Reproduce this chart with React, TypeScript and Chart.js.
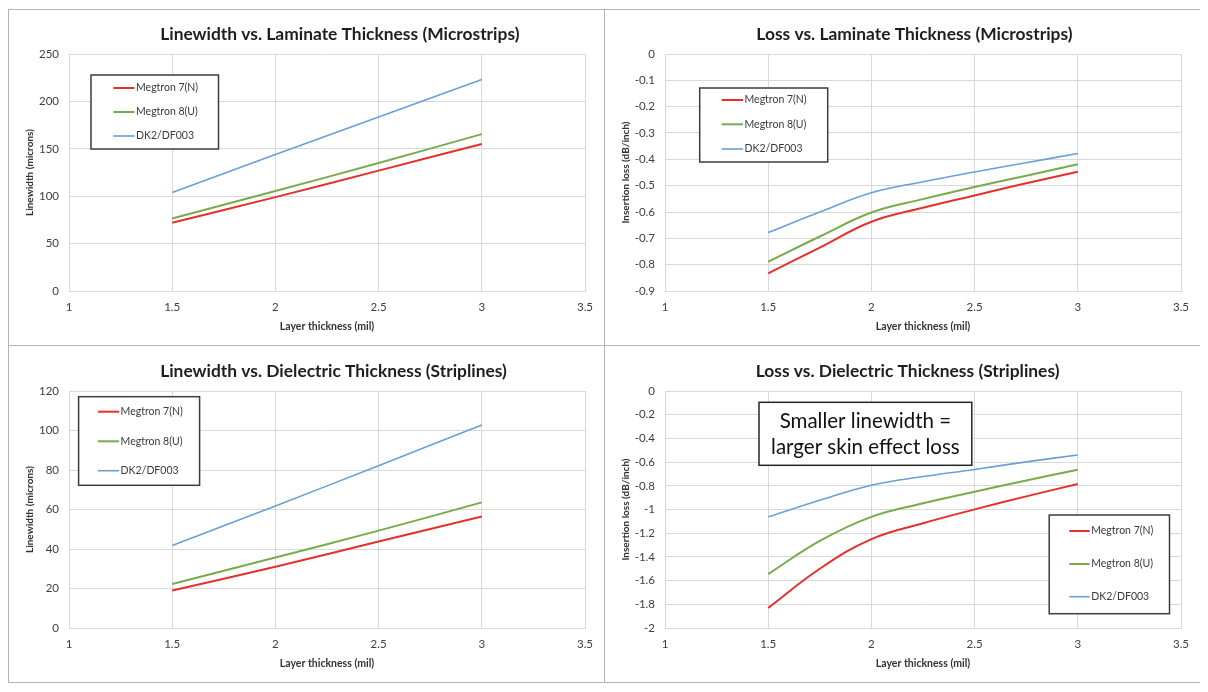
import React, { useEffect, useRef } from 'react';
import { Chart, registerables } from 'chart.js';

Chart.register(...registerables);

// ---------- data ----------
const seriesNames = ['Megtron 7(N)', 'Megtron 8(U)', 'DK2/DF003'];
const seriesColors = ['#E5302C', '#77AC4B', '#6B9FD5'];

const xTicks = [1, 1.5, 2, 2.5, 3, 3.5];
const widthX = [1.5, 2, 2.5, 3];
const lossX = [1.5, 1.75, 2, 2.25, 2.5, 2.75, 3];

const microWidthM7 = [72, 99, 127, 155];
const microWidthM8 = [76.5, 105.5, 135, 165.5];
const microWidthDK2 = [104, 144, 183.5, 223];
const microWidthTicks = [0, 50, 100, 150, 200, 250];

const microLossM7 = [-0.833, -0.735, -0.637, -0.584, -0.537, -0.491, -0.447];
const microLossM8 = [-0.789, -0.693, -0.602, -0.551, -0.505, -0.462, -0.419];
const microLossDK2 = [-0.678, -0.6, -0.527, -0.485, -0.448, -0.413, -0.378];
const microLossTicks = [-0.9, -0.8, -0.7, -0.6, -0.5, -0.4, -0.3, -0.2, -0.1, 0];

const stripWidthM7 = [19, 31, 43.8, 56.5];
const stripWidthM8 = [22.3, 35.7, 49.3, 63.6];
const stripWidthDK2 = [41.8, 61.8, 82.2, 102.8];
const stripWidthTicks = [0, 20, 40, 60, 80, 100, 120];

const stripLossM7 = [-1.83, -1.5, -1.25, -1.116, -0.999, -0.889, -0.785];
const stripLossM8 = [-1.545, -1.265, -1.062, -0.948, -0.85, -0.755, -0.665];
const stripLossDK2 = [-1.062, -0.922, -0.795, -0.722, -0.662, -0.598, -0.54];
const stripLossTicks = [-2, -1.8, -1.6, -1.4, -1.2, -1, -0.8, -0.6, -0.4, -0.2, 0];

const titles = [
  'Linewidth vs. Laminate Thickness (Microstrips)',
  'Loss vs. Laminate Thickness (Microstrips)',
  'Linewidth vs. Dielectric Thickness (Striplines)',
  'Loss vs. Dielectric Thickness (Striplines)',
];
const xAxisTitle = 'Layer thickness (mil)';
const widthAxisTitle = 'Linewidth (microns)';
const lossAxisTitle = 'Insertion loss (dB/inch)';
const annotationLines = ['Smaller linewidth =', 'larger skin effect loss'];

// ---------- styling ----------
const FONT = "Lato, 'Open Sans', sans-serif";
const GRID = '#d9d9d9';
const PANEL_BORDER = '#b4b4b4';

const fmt = (v: number) => String(Math.round(v * 10) / 10);

const boxOverlay = {
  id: 'boxOverlay',
  afterDraw(chart: any, _args: any, opts: any) {
    const ctx = chart.ctx;
    ctx.save();
    if (opts.title) {
      const T = opts.title;
      ctx.fillStyle = '#1e1e1e';
      ctx.font = `bold 17.4px ${FONT}`;
      ctx.textAlign = 'center';
      ctx.textBaseline = 'middle';
      ctx.fillText(T.text, T.x, T.y);
    }
    if (opts.legend) {
      const L = opts.legend;
      const [bx, by, bw, bh] = L.box;
      ctx.fillStyle = '#ffffff';
      ctx.fillRect(bx, by, bw, bh);
      ctx.strokeStyle = '#3c3c3c';
      ctx.lineWidth = 1.5;
      ctx.strokeRect(bx, by, bw, bh);
      chart.data.datasets.forEach((ds: any, i: number) => {
        const y = L.rows[i];
        ctx.strokeStyle = ds.borderColor;
        ctx.lineWidth = ds.borderWidth;
        ctx.beginPath();
        ctx.moveTo(L.line[0], y);
        ctx.lineTo(L.line[1], y);
        ctx.stroke();
        ctx.fillStyle = '#3a3a3a';
        ctx.font = `10.5px ${FONT}`;
        ctx.textAlign = 'left';
        ctx.textBaseline = 'middle';
        ctx.fillText(ds.label, L.line[1] + 1.5, y);
      });
    }
    if (opts.note) {
      const N = opts.note;
      const [bx, by, bw, bh] = N.box;
      ctx.fillStyle = '#ffffff';
      ctx.fillRect(bx, by, bw, bh);
      ctx.strokeStyle = '#262626';
      ctx.lineWidth = 1.5;
      ctx.strokeRect(bx, by, bw, bh);
      ctx.fillStyle = '#111111';
      ctx.font = `20.5px ${FONT}`;
      ctx.textAlign = 'center';
      ctx.textBaseline = 'middle';
      N.lines.forEach((t: string, i: number) => ctx.fillText(t, bx + bw / 2, N.rows[i]));
    }
    ctx.restore();
  },
};

type PanelProps = {
  left: number;
  top: number;
  width: number;
  height: number;
  title: string;
  titleX: number;
  titleY: number;
  plotTop: number;
  yTitle: string;
  xs: number[];
  series: number[][];
  yTicks: number[];
  legend: any;
  note?: any;
};

function Panel(p: PanelProps) {
  const ref = useRef<HTMLCanvasElement | null>(null);
  const cw = p.width - 2;
  const ch = p.height - 2;
  useEffect(() => {
    if (!ref.current) return;
    const chart = new Chart(ref.current, {
      type: 'line',
      data: {
        datasets: p.series.map((vals, i) => ({
          label: seriesNames[i],
          data: p.xs.map((x, j) => ({ x, y: vals[j] })),
          borderColor: seriesColors[i],
          borderWidth: i === 2 ? 1.6 : 2,
          pointRadius: 0,
          tension: 0.4,
          fill: false,
        })),
      },
      options: {
        responsive: false,
        animation: false,
        devicePixelRatio: 1,
        layout: { padding: { left: 0, right: 19, top: p.plotTop, bottom: 0 } },
        plugins: {
          legend: { display: false },
          tooltip: { enabled: false },
          title: { display: false },
          boxOverlay: {
            title: { text: p.title, x: p.titleX, y: p.titleY },
            legend: p.legend,
            note: p.note,
          },
        } as any,
        scales: {
          x: {
            type: 'linear',
            min: xTicks[0],
            max: xTicks[xTicks.length - 1],
            afterBuildTicks: (s: any) => {
              s.ticks = xTicks.map((v) => ({ value: v }));
            },
            afterFit: (s: any) => {
              s.height = 54;
            },
            grid: { color: GRID, drawTicks: false },
            border: { color: GRID },
            ticks: {
              padding: 9,
              color: '#404040',
              font: { family: FONT, size: 11.5 },
              callback: (v: any) => fmt(Number(v)),
              maxRotation: 0,
            },
            title: {
              display: true,
              text: xAxisTitle,
              color: '#333333',
              font: { family: FONT, size: 10.5, weight: 'bold', lineHeight: 1.2 },
              padding: { top: 0, bottom: 12.4 },
            },
          },
          y: {
            type: 'linear',
            min: p.yTicks[0],
            max: p.yTicks[p.yTicks.length - 1],
            afterBuildTicks: (s: any) => {
              s.ticks = p.yTicks.map((v) => ({ value: v }));
            },
            afterFit: (s: any) => {
              s.width = 60;
            },
            grid: { color: GRID, drawTicks: false },
            border: { color: GRID },
            ticks: {
              padding: 10,
              color: '#404040',
              font: { family: FONT, size: 11.5 },
              callback: (v: any) => fmt(Number(v)),
            },
            title: {
              display: true,
              text: p.yTitle,
              color: '#333333',
              font: { family: FONT, size: 10, weight: 'bold', lineHeight: 1.2 },
              padding: { top: 14.7, bottom: 0 },
            },
          },
        },
      } as any,
      plugins: [boxOverlay as any],
    });
    return () => chart.destroy();
  }, []);
  return (
    <div
      style={{
        position: 'absolute',
        left: p.left,
        top: p.top,
        width: p.width,
        height: p.height,
        boxSizing: 'border-box',
        border: `1px solid ${PANEL_BORDER}`,
        background: '#ffffff',
      }}
    >
      <canvas ref={ref} width={cw} height={ch} style={{ display: 'block', width: cw, height: ch }} />
    </div>
  );
}

export default function App() {
  // page offsets relative to body margin (8px)
  return (
    <div style={{ position: 'relative', width: 1192, height: 676 }}>
      <Panel
        left={0}
        top={1}
        width={597}
        height={337}
        title={titles[0]}
        titleX={330.8}
        titleY={24.3}
        plotTop={44}
        yTitle={widthAxisTitle}
        xs={widthX}
        series={[microWidthM7, microWidthM8, microWidthDK2]}
        yTicks={microWidthTicks}
        legend={{ box: [82, 65, 127.5, 74], line: [104.3, 125.5], rows: [78, 102, 126] }}
      />
      <Panel
        left={596}
        top={1}
        width={597}
        height={337}
        title={titles[1]}
        titleX={309.4}
        titleY={24.3}
        plotTop={44}
        yTitle={lossAxisTitle}
        xs={lossX}
        series={[microLossM7, microLossM8, microLossDK2]}
        yTicks={microLossTicks}
        legend={{ box: [94.7, 78, 128, 74], line: [116.7, 138], rows: [90, 114.3, 139] }}
      />
      <Panel
        left={0}
        top={337}
        width={597}
        height={338}
        title={titles[2]}
        titleX={324.5}
        titleY={25}
        plotTop={45}
        yTitle={widthAxisTitle}
        xs={widthX}
        series={[stripWidthM7, stripWidthM8, stripWidthDK2]}
        yTicks={stripWidthTicks}
        legend={{ box: [69.6, 50.7, 121, 88.6], line: [88.9, 110.1], rows: [65.7, 95.3, 124.7] }}
      />
      <Panel
        left={596}
        top={337}
        width={597}
        height={338}
        title={titles[3]}
        titleX={302.6}
        titleY={25}
        plotTop={45}
        yTitle={lossAxisTitle}
        xs={lossX}
        series={[stripLossM7, stripLossM8, stripLossDK2]}
        yTicks={stripLossTicks}
        legend={{ box: [444.2, 169, 120.3, 98.7], line: [464.3, 484.7], rows: [185, 218, 250.7] }}
        note={{ box: [154, 56.3, 212.8, 63], lines: annotationLines, rows: [75.7, 101.7] }}
      />
    </div>
  );
}
